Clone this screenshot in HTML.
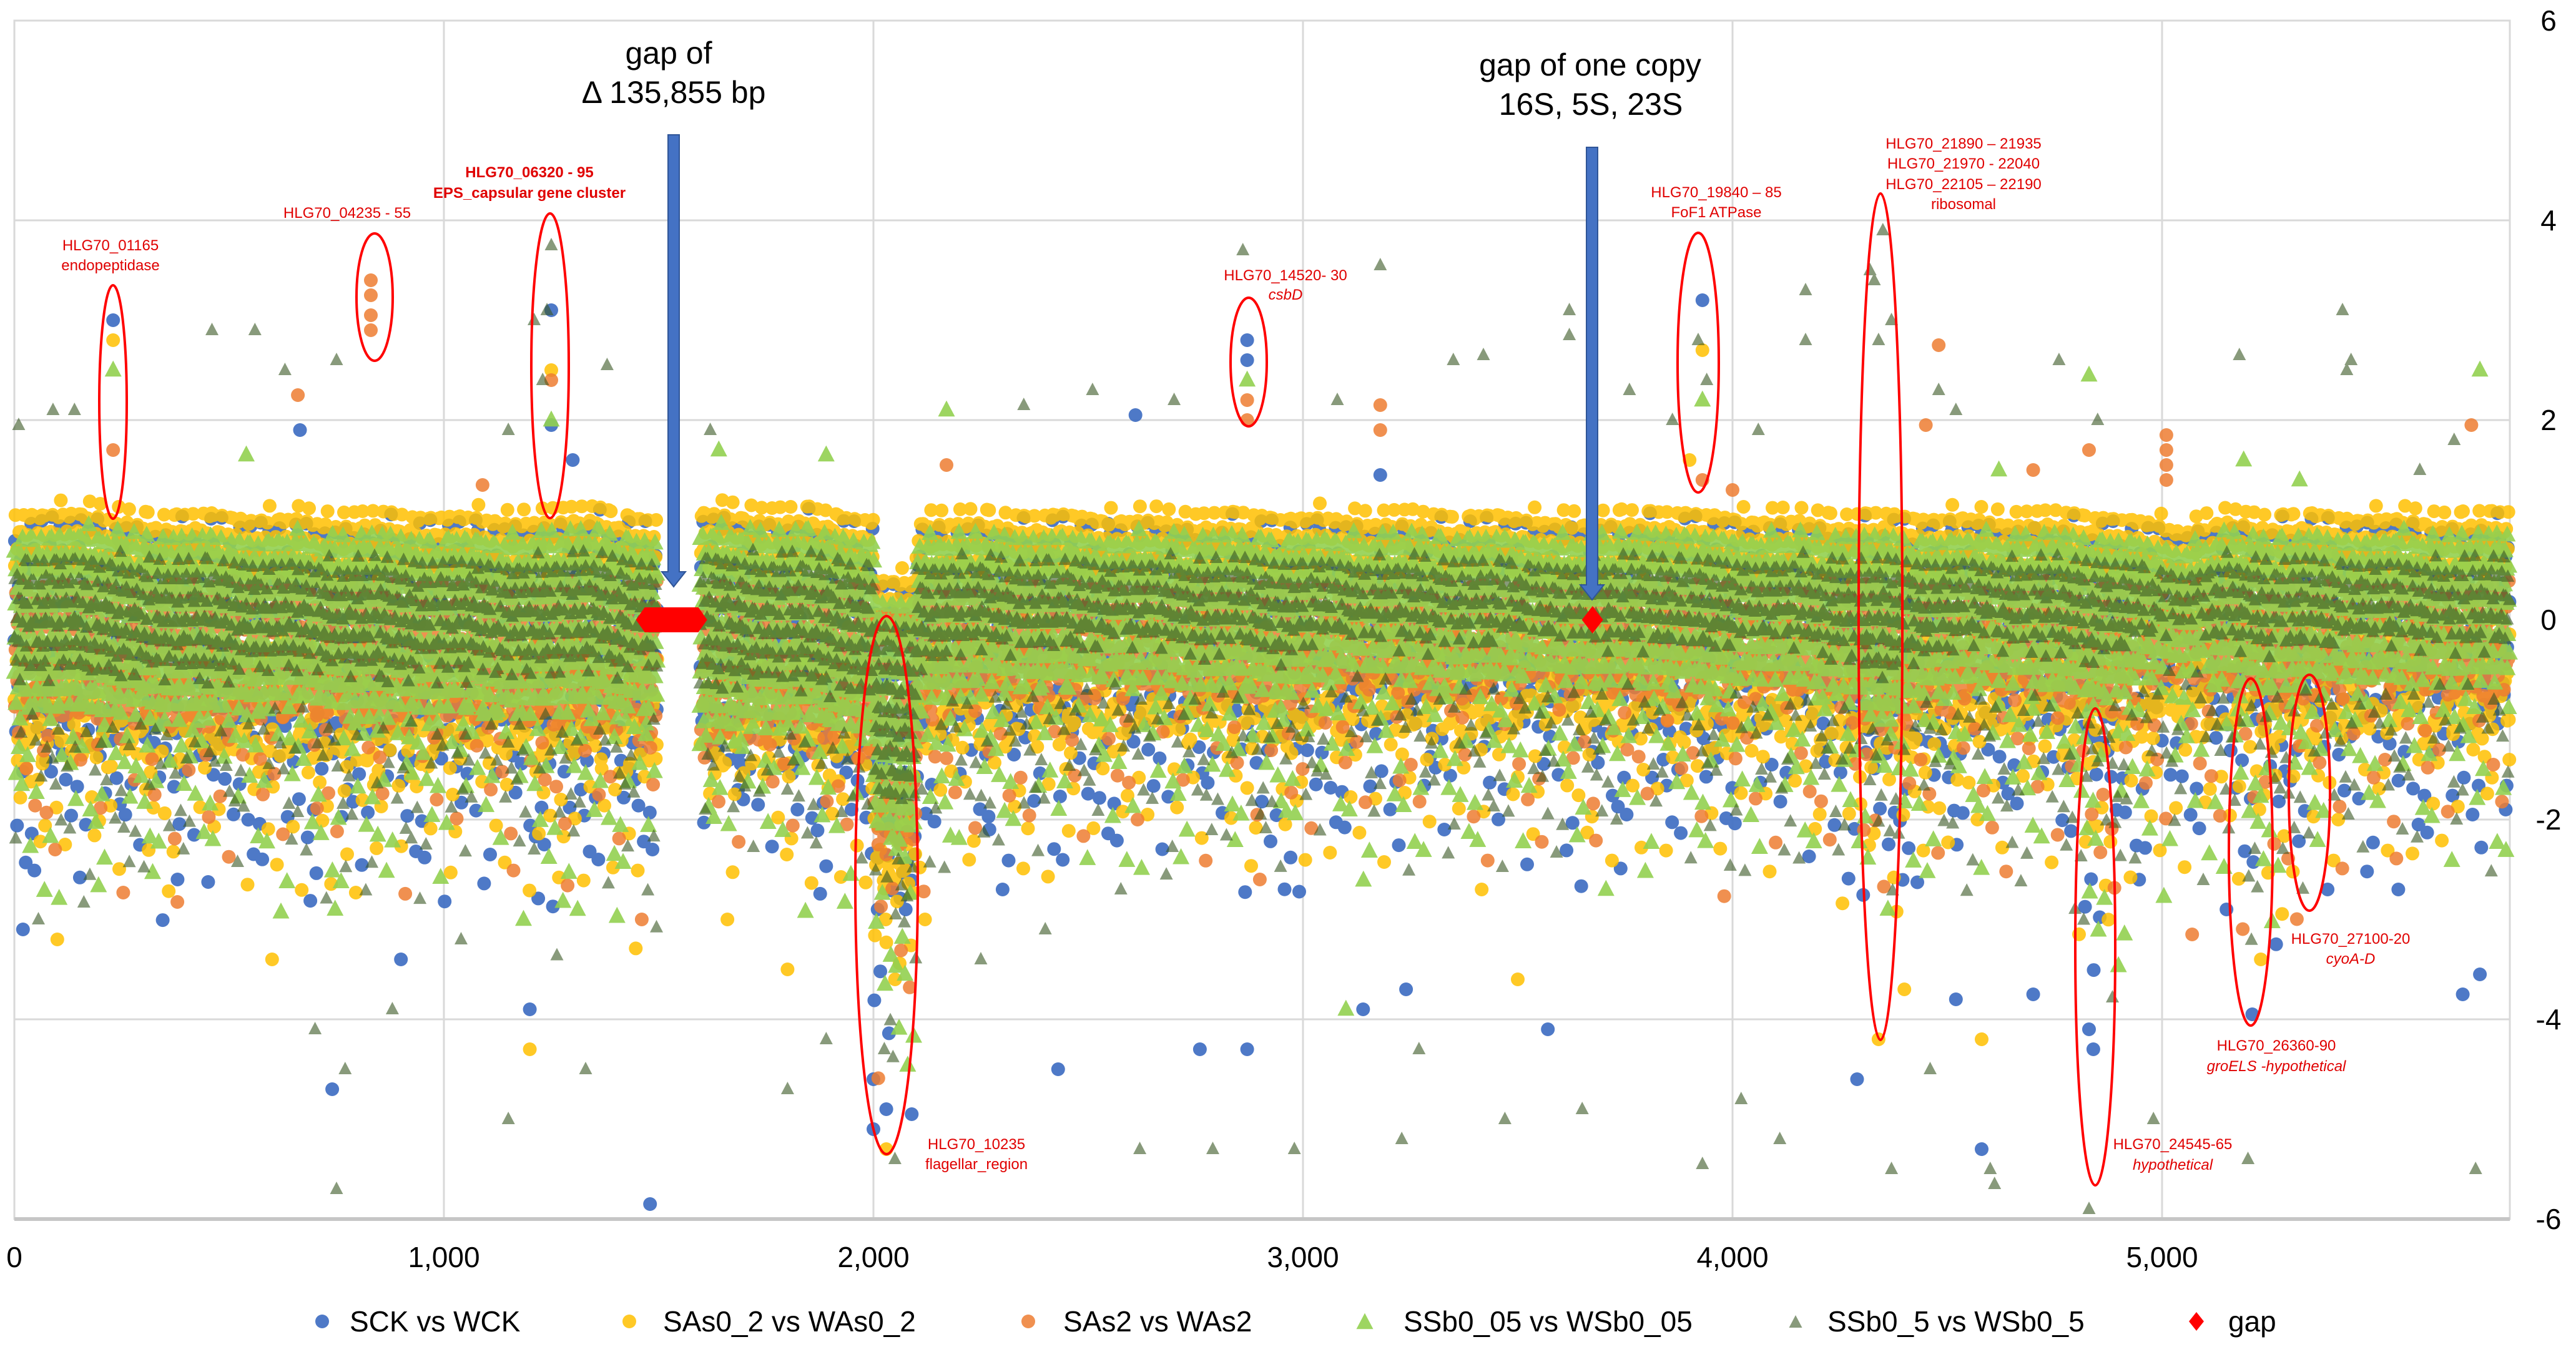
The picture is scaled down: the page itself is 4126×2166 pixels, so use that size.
<!DOCTYPE html>
<html><head><meta charset="utf-8">
<style>
html,body{margin:0;padding:0;background:#fff;}
body{width:4126px;height:2161px;overflow:hidden;font-family:"Liberation Sans",sans-serif;}
svg text{font-family:"Liberation Sans",sans-serif;}
</style></head>
<body>
<svg id="chart" width="4126" height="2161" viewBox="0 0 4126 2161" xmlns="http://www.w3.org/2000/svg">
<g id="grid"></g>
<g id="marks"></g>
<g id="annot"></g>
<g id="axes"></g>
<g id="legend"></g>
</svg>
<script>
// ---- data ----
const xTicks = [0, 1000, 2000, 3000, 4000, 5000];
const xTickLabels = ["0", "1,000", "2,000", "3,000", "4,000", "5,000"];
const yTicks = [6, 4, 2, 0, -2, -4, -6];
const yTickLabels = ["6", "4", "2", "0", "-2", "-4", "-6"];
// bins of 100 genes: dense band top, dense band bottom, sparse tail bottom (log2 ratio)
const binStart = [0,100,200,300,400,500,600,700,800,900,1000,1100,1200,1300,1400,1500,1600,1700,1800,1900,2000,2100,2200,2300,2400,2500,2600,2700,2800,2900,3000,3100,3200,3300,3400,3500,3600,3700,3800,3900,4000,4100,4200,4300,4400,4500,4600,4700,4800,4900,5000,5100,5200,5300,5400,5500,5600,5700];
const bandTop  = [1.05,1.1,1.05,1.0,1.05,1.0,1.05,1.0,1.05,1.0,1.05,1.0,1.05,1.1,1.0,null,1.1,1.05,1.1,1.0,0.4,1.0,1.05,1.0,1.05,1.0,1.05,1.0,1.05,1.0,1.05,1.0,1.05,1.0,1.05,1.0,1.0,1.05,1.05,1.05,1.0,1.05,1.0,1.05,1.0,1.05,1.0,1.05,1.0,1.0,0.9,1.05,1.0,1.05,1.0,1.05,1.0,1.05];
const bandCore = [-0.9,-0.9,-1.0,-0.9,-1.0,-0.9,-0.8,-0.9,-1.0,-0.9,-0.9,-0.9,-0.9,-0.9,-0.9,null,-1.1,-1.0,-1.0,-1.1,-2.2,-0.8,-0.6,-0.6,-0.7,-0.6,-0.6,-0.7,-0.6,-0.8,-0.6,-0.5,-0.6,-0.6,-0.6,-0.5,-0.6,-0.6,-0.6,-0.7,-0.6,-0.6,-0.7,-1.0,-0.8,-0.6,-0.6,-0.7,-0.8,-0.6,-0.4,-0.6,-0.7,-0.6,-0.6,-0.6,-0.6,-0.6];
const bandTail = [-3.1,-2.9,-3.0,-3.2,-2.7,-2.9,-3.0,-3.5,-2.7,-3.2,-2.6,-2.8,-3.6,-3.0,-3.3,null,-2.6,-2.5,-3.0,-2.9,-5.0,-2.9,-2.8,-2.9,-2.6,-2.8,-2.7,-2.6,-2.8,-3.2,-2.7,-2.6,-2.8,-2.6,-2.9,-2.6,-2.9,-2.7,-2.6,-2.8,-2.7,-2.8,-2.9,-3.4,-3.0,-2.8,-2.9,-2.7,-4.3,-2.8,-2.9,-2.8,-3.8,-2.9,-2.6,-2.8,-2.7,-2.6];
// notable outliers per series: gene index and value
const sckX = [230,1250,1250,2870,2870,3930,665,1300,2610,3180,2000,2030,1480,4290,4580,4840,4830,5210,5700,5740,20,740,1200,2430,2760,2870,3240,3570,4700,5800,5550,2270,380,900,4520,3140,2000,5150];
const sckY = [3.0,3.1,1.95,2.8,2.6,3.2,1.9,1.6,2.05,1.45,-5.1,-4.9,-5.85,-4.6,-5.3,-4.3,-4.1,-3.95,-3.75,-3.55,-3.1,-4.7,-3.9,-4.5,-4.3,-4.3,-3.7,-4.1,-3.75,-1.9,-2.7,-2.1,-2.6,-3.4,-3.8,-3.9,-4.6,-2.9];
const sasX = [230,1250,3930,1200,2030,4340,4580,3900,600,1800,2120,3500,4400,5230,100,1660];
const sasY = [2.8,2.5,2.7,-4.3,-5.3,-4.2,-4.2,1.6,-3.4,-3.5,-3.0,-3.6,-3.7,-3.4,-3.2,-3.0];
const sas2X = [830,830,830,830,230,660,1250,2870,2870,3180,3180,3930,4480,4450,4830,5010,5010,5010,5010,4700,5720,5070,1090,2170,4000];
const sas2Y = [3.4,3.25,3.05,2.9,1.7,2.25,2.4,2.2,2.0,2.15,1.9,1.4,2.75,1.95,1.7,1.85,1.7,1.55,1.4,1.5,1.95,-3.15,1.35,1.55,1.3];
const ssb05X = [230,1250,2870,2170,3930,4830,5740,540,1890,5320,4620,5190,1640,3100];
const ssb05Y = [2.5,2.0,2.4,2.1,2.2,2.45,2.5,1.65,1.65,1.4,1.5,1.6,1.7,-3.9];
const ssb5X = [1250,1210,750,140,90,10,460,560,630,1380,1230,2860,3180,3620,3620,3420,3350,2510,2350,2700,4330,4350,4370,4340,4170,4170,4480,4520,4850,5180,5420,5440,5430,1890,750,1150,1800,2620,2980,2790,3230,3470,3930,4110,4370,4600,4610,4830,5730,5200,4980,700,770,880,1040,1330,2400,3270,3650,4020,4460,1240,4320,3920,3940,1620,2050,2250,1150,3080,3760,3860,4060,4760,5600,5680];
const ssb5Y = [3.75,3.0,2.6,2.1,2.1,1.95,2.9,2.9,2.5,2.55,2.4,3.7,3.55,3.1,2.85,2.65,2.6,2.3,2.15,2.2,3.4,3.9,3.0,2.8,3.3,2.8,2.3,2.1,2.0,2.65,3.1,2.6,2.5,-4.2,-5.7,-5.0,-4.7,-5.3,-5.3,-5.3,-5.2,-5.0,-5.45,-5.2,-5.5,-5.5,-5.65,-5.9,-5.5,-5.4,-5.0,-4.1,-4.5,-3.9,-3.2,-4.5,-3.1,-4.3,-4.9,-4.8,-4.5,3.1,3.5,2.8,2.4,1.9,-5.4,-3.4,1.9,2.2,2.3,2.0,1.9,2.6,1.5,1.8];
const gapX = [1530, 3674];

// ---- scales ----
const PL = 23, PR = 4020, PT = 33, PB = 1953;
const xPerGene = 0.688;
function X(v){ return PL + v * xPerGene; }
function Y(v){ return 993 - v * 160; }

const NS = "http://www.w3.org/2000/svg";
function el(tag, attrs, parent){ const e = document.createElementNS(NS, tag); for (const k in attrs) e.setAttribute(k, attrs[k]); parent.appendChild(e); return e; }

const grid = document.getElementById('grid');
const marks = document.getElementById('marks');
const annot = document.getElementById('annot');
const axes = document.getElementById('axes');
const legend = document.getElementById('legend');

xTicks.forEach((t) => {
  if (t === 0) return;
  const g = el('line', {x1: X(t), x2: X(t), y1: PT, y2: PB, stroke: '#d9d9d9', 'stroke-width': 3}, grid);
  
  
});
yTicks.forEach((t) => {
  if (t === 0 || t === 6 || t === -6) return;
  const g = el('line', {x1: PL, x2: PR, y1: Y(t), y2: Y(t), stroke: '#d9d9d9', 'stroke-width': 3}, grid);
  
  
});
const frame = el('rect', {x: PL, y: PT, width: PR - PL, height: PB - PT, fill: 'none', stroke: '#d9d9d9', 'stroke-width': 3}, grid);


const baseLine = el('line', {x1: PL, x2: PR, y1: PB, y2: PB, stroke: '#c6c6c6', 'stroke-width': 6}, grid);



function circ(cx, cy, r){ return `M${(cx - r).toFixed(1)} ${cy.toFixed(1)}a${r} ${r} 0 1 0 ${2*r} 0a${r} ${r} 0 1 0 ${-2*r} 0Z`; }
function tri(cx, cy, w){ const h = w * 0.95; return `M${cx.toFixed(1)} ${(cy - h*0.6).toFixed(1)}l${w/2} ${h}h${-w}Z`; }

const COLORS = {
  sck: {fill: '#4472C4', op: 0.95},
  sas: {fill: '#FFC000', op: 0.85},
  sas2: {fill: '#ED7D31', op: 0.85},
  ssb05: {fill: '#92D050', op: 0.9},
  ssb5: {fill: '#385723', op: 0.6}
};
const paths = {sck: '', sas: '', sas2: '', ssb05: '', ssb5: ''};
function addMark(series, gx, v){
  const cx = X(gx), cy = Y(v);
  if (series === 'ssb05') paths[series] += tri(cx, cy, 27);
  else if (series === 'ssb5') paths[series] += tri(cx, cy, 21);
  else paths[series] += circ(cx, cy, 11);
}
function bandAt(arr, gx){
  const f = gx / 100 - 0.5;
  let i0 = Math.max(0, Math.min(binStart.length - 1, Math.floor(f)));
  let i1 = Math.min(binStart.length - 1, i0 + 1);
  const own = Math.max(0, Math.min(binStart.length - 1, Math.floor(gx / 100)));
  if (arr[i0] === null || arr[i1] === null) return arr[own];
  if (own === 20 || i0 === 20 || i1 === 20) return arr[own];
  const t = Math.max(0, Math.min(1, f - i0));
  return arr[i0] * (1 - t) + arr[i1] * t;
}

const colW = 14;
const nCols = Math.floor(5810 / colW);
function layerCol(series, c, gx0, lo, hi, step, seed){
  let r = 0;
  for (let v = hi; v >= lo; v -= step, r++) {
    const jx = ((r * 7 + c * 4 + seed) % 11) / 11 * colW;
    const jy = (((r * 5 + c * 11 + seed * 3) % 7) - 3) / 3 * step * 0.45;
    addMark(series, gx0 + jx, v + jy);
  }
}
const tailOrder = ['sck', 'sas', 'ssb05', 'ssb5', 'sas', 'sck', 'ssb05', 'ssb5', 'sas2'];
for (let c = 0; c < nCols; c++) {
  const gx0 = c * colW;
  const own = Math.floor((gx0 + colW / 2) / 100);
  if (bandTop[own] === null) continue;
  const top = bandAt(bandTop, gx0 + colW / 2) + (((c * 7) % 5) - 2) * 0.03;
  const core = bandAt(bandCore, gx0 + colW / 2) + (((c * 3) % 5) - 2) * 0.05;
  const tail = bandAt(bandTail, gx0 + colW / 2);
  layerCol('sck', c, gx0, core - 0.2, top - 0.2, 0.35, 1);
  layerCol('sas', c, gx0, Math.max(core, top - 0.6), top, 0.13, 2);
  layerCol('sas', c, gx0, core - 0.4, core + 0.5, 0.3, 4);
  layerCol('sas2', c, gx0, core - 0.1, Math.min(0.3, top - 0.4), 0.2, 3);
  layerCol('ssb05', c, gx0, core + 0.0, top - 0.25, 0.12, 0);
  layerCol('ssb5', c, gx0, core + 0.4, top - 0.5, 0.15, 5);
  let r = 0;
  for (let v = core - 0.15; v >= tail; v -= 0.13, r++) {
    const frac = (core - v) / Math.max(0.1, core - tail);
    const k = (c * 31 + r * 17) % 20;
    if (k < Math.pow(frac, 0.6) * 19) continue;
    const jx = ((r * 7 + c * 3) % 9) / 9 * colW;
    addMark(tailOrder[(r * 2 + c) % tailOrder.length], gx0 + jx, v);
  }
}
sckX.forEach((g, j) => addMark('sck', g, sckY[j]));
sasX.forEach((g, j) => addMark('sas', g, sasY[j]));
sas2X.forEach((g, j) => addMark('sas2', g, sas2Y[j]));
ssb05X.forEach((g, j) => addMark('ssb05', g, ssb05Y[j]));
ssb5X.forEach((g, j) => addMark('ssb5', g, ssb5Y[j]));

const seriesNames = {sck: 'series-sck-vs-wck', sas: 'series-sas0-2-vs-was0-2', sas2: 'series-sas2-vs-was2', ssb05: 'series-ssb0-05-vs-wsb0-05', ssb5: 'series-ssb0-5-vs-wsb0-5'};
['sck', 'sas', 'sas2', 'ssb05', 'ssb5'].forEach(s => {
  const p = el('path', {d: paths[s], fill: COLORS[s].fill, 'fill-opacity': COLORS[s].op}, marks);
  
  
});
const g1 = el('path', {d: `M${X(gapX[0]) - 57} ${Y(0)}l14 -20h86l14 20l-14 20h-86Z`, fill: '#FF0000'}, marks);


const g2 = el('path', {d: `M${X(gapX[1])} ${Y(0) - 22}l17 22l-17 22l-17 -22Z`, fill: '#FF0000'}, marks);



xTicks.forEach((t, i) => {
  const tx = el('text', {x: X(t), y: 2030, 'font-size': 46, 'text-anchor': 'middle', fill: '#000'}, axes);
  tx.textContent = xTickLabels[i];
  
  
});
yTicks.forEach((t, i) => {
  const tx = el('text', {x: 4082, y: Y(t) + 16, 'font-size': 46, 'text-anchor': 'middle', fill: '#000'}, axes);
  tx.textContent = yTickLabels[i];
  
  
});

function ellipse(name, cx, cy, rx, ry){
  const e = el('ellipse', {cx, cy, rx, ry, fill: 'none', stroke: '#FF0000', 'stroke-width': 4}, annot);
  
  
}
function label(name, x, y, txt, opts){
  const t = el('text', Object.assign({x, y, 'font-size': 24, 'text-anchor': 'middle', fill: '#E00000'}, opts || {}), annot);
  t.textContent = txt;
  
  
}
ellipse('ellipse-endopeptidase', 181, 644, 22, 187);
label('label-hlg70-01165', 177, 401, 'HLG70_01165');
label('label-endopeptidase', 177, 433, 'endopeptidase');
ellipse('ellipse-hlg70-04235', 600, 476, 29, 102);
label('label-hlg70-04235', 556, 349, 'HLG70_04235 - 55');
ellipse('ellipse-eps', 881, 586, 30, 244);
label('label-hlg70-06320', 848, 284, 'HLG70_06320 - 95', {'font-weight': 'bold'});
label('label-eps-cluster', 848, 317, 'EPS_capsular gene cluster', {'font-weight': 'bold'});
ellipse('ellipse-csbd', 2000, 580, 29, 103);
label('label-hlg70-14520', 2059, 449, 'HLG70_14520- 30');
label('label-csbd', 2059, 480, 'csbD', {'font-style': 'italic'});
ellipse('ellipse-fof1', 2720, 581, 33, 208);
label('label-hlg70-19840', 2749, 316, 'HLG70_19840 – 85');
label('label-fof1', 2749, 348, 'FoF1 ATPase');
ellipse('ellipse-ribosomal', 3012, 988, 35, 678);
label('label-rib-1', 3145, 238, 'HLG70_21890 – 21935');
label('label-rib-2', 3145, 270, 'HLG70_21970 - 22040');
label('label-rib-3', 3145, 303, 'HLG70_22105 – 22190');
label('label-ribosomal', 3145, 335, 'ribosomal');
ellipse('ellipse-flagellar', 1420, 1418, 50, 431);
label('label-hlg70-10235', 1564, 1841, 'HLG70_10235');
label('label-flagellar', 1564, 1873, 'flagellar_region');
ellipse('ellipse-hypothetical', 3356, 1517, 32, 382);
label('label-hlg70-24545', 3480, 1841, 'HLG70_24545-65');
label('label-hypothetical', 3480, 1874, 'hypothetical', {'font-style': 'italic'});
ellipse('ellipse-groels', 3605, 1365, 35, 278);
label('label-hlg70-26360', 3646, 1683, 'HLG70_26360-90');
label('label-groels', 3646, 1716, 'groELS -hypothetical', {'font-style': 'italic'});
ellipse('ellipse-cyoa', 3699, 1270, 33, 189);
label('label-hlg70-27100', 3765, 1512, 'HLG70_27100-20');
label('label-cyoa', 3765, 1544, 'cyoA-D', {'font-style': 'italic'});

function arrow(name, x, y1, y2){
  const a = el('path', {d: `M${x - 9} ${y1}h18v${y2 - y1 - 24}h10l-19 24l-19 -24h10Z`, fill: '#4472C4', stroke: '#2F5597', 'stroke-width': 2}, annot);
  
  
}
arrow('gap-arrow-1', 1079, 216, 940);
arrow('gap-arrow-2', 2550, 236, 961);
function title(name, x, y, txt){
  const t = el('text', {x, y, 'font-size': 50, 'text-anchor': 'middle', fill: '#000'}, annot);
  t.textContent = txt;
  
  
}
title('gap-title-1a', 1071, 102, 'gap of');
title('gap-title-1b', 1079, 165, 'Δ 135,855 bp');
title('gap-title-2a', 2547, 121, 'gap of one copy');
title('gap-title-2b', 2548, 184, '16S, 5S, 23S');

const legItems = [
  {name: 'legend-sck', mx: 516, tx: 560, txt: 'SCK vs WCK', s: 'sck'},
  {name: 'legend-sas0-2', mx: 1008, tx: 1062, txt: 'SAs0_2 vs WAs0_2', s: 'sas'},
  {name: 'legend-sas2', mx: 1647, tx: 1703, txt: 'SAs2 vs WAs2', s: 'sas2'},
  {name: 'legend-ssb0-05', mx: 2186, tx: 2248, txt: 'SSb0_05 vs WSb0_05', s: 'ssb05'},
  {name: 'legend-ssb0-5', mx: 2876, tx: 2927, txt: 'SSb0_5 vs WSb0_5', s: 'ssb5'},
  {name: 'legend-gap', mx: 3518, tx: 3569, txt: 'gap', s: 'gap'}
];
const LY = 2117;
legItems.forEach(it => {
  const g = el('g', {}, legend);
  
  
  let d, fill = COLORS[it.s] ? COLORS[it.s].fill : '#FF0000', op = COLORS[it.s] ? COLORS[it.s].op : 1;
  if (it.s === 'ssb05') d = tri(it.mx, LY + 2, 27);
  else if (it.s === 'ssb5') d = tri(it.mx, LY + 2, 21);
  else if (it.s === 'gap') d = `M${it.mx} ${LY - 15}l12 15l-12 15l-12 -15Z`;
  else d = circ(it.mx, LY, 11);
  const m = el('path', {d, fill, 'fill-opacity': op}, g);
  
  
  const t = el('text', {x: it.tx, y: LY + 16, 'font-size': 46, fill: '#000'}, g);
  t.textContent = it.txt;
  
  
});
</script>
</body></html>
